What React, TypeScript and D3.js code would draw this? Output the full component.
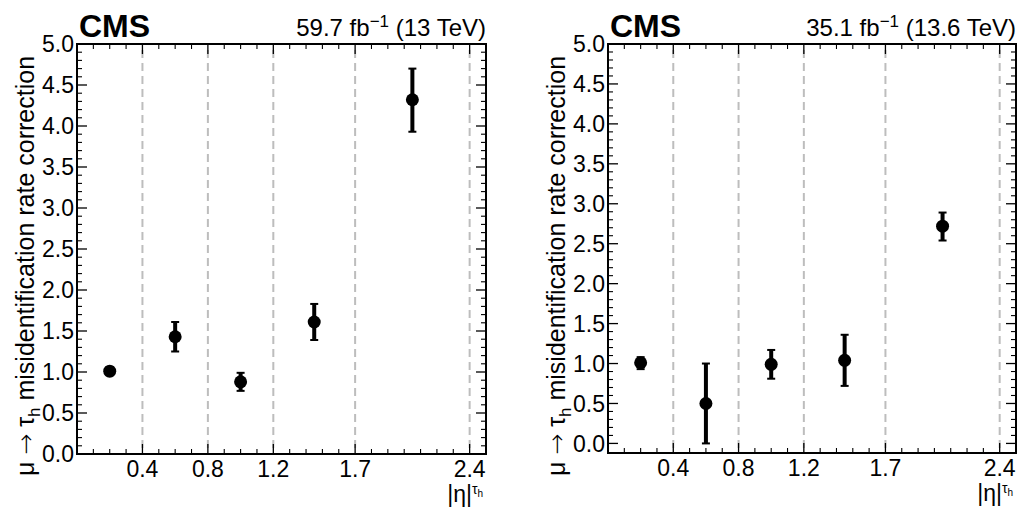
import React from "react";
import * as d3 from "d3";

// bin edges / centres in |eta|
const etaEdges = [0, 0.4, 0.8, 1.2, 1.7, 2.4];
const etaCenters = [0.2, 0.6, 1.0, 1.45, 2.05];
const xTickLabels = ["0.4", "0.8", "1.2", "1.7", "2.4"];

// 2018, 59.7 fb-1 (13 TeV)
const corr13 = [1.01, 1.43, 0.88, 1.61, 4.32];
const errUp13 = [0.05, 0.18, 0.11, 0.22, 0.38];
const errDn13 = [0.05, 0.18, 0.11, 0.22, 0.39];

// 2022, 35.1 fb-1 (13.6 TeV)
const corr136 = [1.01, 0.5, 0.99, 1.04, 2.72];
const errUp136 = [0.07, 0.5, 0.18, 0.32, 0.17];
const errDn136 = [0.08, 0.5, 0.18, 0.32, 0.18];

const yMajor = d3.range(0, 11).map((i) => i * 0.5);
const yMinor = d3.range(0, 51).map((i) => i / 10).filter((v) => Math.round(v * 10) % 5 !== 0);
const xMinor = d3.range(1, 25).map((i) => i / 10).filter((v) => !etaEdges.some((e) => Math.abs(e - v) < 1e-6));

const font = "'Liberation Sans', Arial, Helvetica, sans-serif";

interface PanelProps {
  left: number;
  right: number;
  top: number;
  bottom: number;
  yMin: number;
  values: number[];
  up: number[];
  dn: number[];
  lumi: string;
  energy: string;
  labelX: number;
}

const Panel = ({ left, right, top, bottom, yMin, values, up, dn, lumi, energy, labelX }: PanelProps) => {
  const x = d3.scaleLinear().domain([0, 2.5]).range([left, right]);
  const y = d3.scaleLinear().domain([yMin, 5]).range([bottom, top]);

  return (
    <g fontFamily={font}>
      {/* dashed bin boundaries */}
      {etaEdges.slice(1).map((e) => (
        <line key={"d" + e} x1={x(e)} x2={x(e)} y1={top + 6} y2={bottom - 4}
          stroke="#bdbdbd" strokeWidth={2} strokeDasharray="8,5" />
      ))}

      {/* ticks */}
      {yMajor.map((v) => (
        <g key={"ym" + v}>
          <line x1={left} x2={left + 10} y1={y(v)} y2={y(v)} stroke="#000" strokeWidth={1.3} />
          <line x1={right} x2={right - 10} y1={y(v)} y2={y(v)} stroke="#000" strokeWidth={1.3} />
          <text x={left - 3} y={y(v)} dy="0.36em" textAnchor="end" fontSize={23}>{v.toFixed(1)}</text>
        </g>
      ))}
      {yMinor.map((v) => (
        <g key={"yn" + v}>
          <line x1={left} x2={left + 5} y1={y(v)} y2={y(v)} stroke="#000" strokeWidth={1.1} />
          <line x1={right} x2={right - 5} y1={y(v)} y2={y(v)} stroke="#000" strokeWidth={1.1} />
        </g>
      ))}
      {etaEdges.slice(1).map((e, i) => (
        <g key={"xm" + e}>
          <line x1={x(e)} x2={x(e)} y1={bottom} y2={bottom - 10} stroke="#000" strokeWidth={1.3} />
          <line x1={x(e)} x2={x(e)} y1={top} y2={top + 10} stroke="#000" strokeWidth={1.3} />
          <text x={x(e)} y={bottom + 23} textAnchor="middle" fontSize={23}>{xTickLabels[i]}</text>
        </g>
      ))}
      {xMinor.map((v) => (
        <g key={"xn" + v}>
          <line x1={x(v)} x2={x(v)} y1={bottom} y2={bottom - 5} stroke="#000" strokeWidth={1.1} />
          <line x1={x(v)} x2={x(v)} y1={top} y2={top + 5} stroke="#000" strokeWidth={1.1} />
        </g>
      ))}

      {/* points with error bars */}
      {values.map((v, i) => {
        const cx = x(etaCenters[i]);
        const y1 = y(v + up[i]);
        const y2 = y(Math.max(v - dn[i], yMin));
        return (
          <g key={"p" + i}>
            <line x1={cx} x2={cx} y1={y1} y2={y2} stroke="#000" strokeWidth={4} />
            <line x1={cx - 4} x2={cx + 4} y1={y1} y2={y1} stroke="#000" strokeWidth={2} />
            <line x1={cx - 4} x2={cx + 4} y1={y2} y2={y2} stroke="#000" strokeWidth={2} />
            <circle cx={cx} cy={y(v)} r={6.5} fill="#000" />
          </g>
        );
      })}

      <rect x={left} y={top} width={right - left} height={bottom - top} fill="none" stroke="#000" strokeWidth={2} />

      {/* headers */}
      <text x={left + 2} y={top - 7} fontSize={32} fontWeight="bold">CMS</text>
      <text x={right} y={top - 8} textAnchor="end" fontSize={24}>
        {lumi} fb<tspan dy={-9} fontSize={17}>−1</tspan><tspan dy={9}> ({energy} TeV)</tspan>
      </text>

      {/* axis titles */}
      <text x={right - 3} y={bottom + 48} textAnchor="end" fontSize={23}>
        |η|<tspan dy={-8} fontSize={14}>τ</tspan><tspan dy={3} fontSize={10}>h</tspan>
      </text>
      <text transform={`translate(${labelX},266) rotate(-90)`} textAnchor="middle" fontSize={25}>
        μ <tspan fontFamily="'DejaVu Sans'" fontWeight="300">→</tspan> τ<tspan dy={6} fontSize={17}>h</tspan><tspan dy={-6}> misidentification rate correction</tspan>
      </text>
    </g>
  );
};

export default function App() {
  return (
    <>
      <style>{`body{margin:0}`}</style>
      <svg width={1019} height={510} style={{ display: "block", background: "#fff" }}>
        <Panel left={77} right={486} top={44} bottom={454} yMin={0}
          values={corr13} up={errUp13} dn={errDn13} lumi="59.7" energy="13" labelX={34} />
        <Panel left={608} right={1016} top={44} bottom={453} yMin={-0.12}
          values={corr136} up={errUp136} dn={errDn136} lumi="35.1" energy="13.6" labelX={565} />
      </svg>
    </>
  );
}
